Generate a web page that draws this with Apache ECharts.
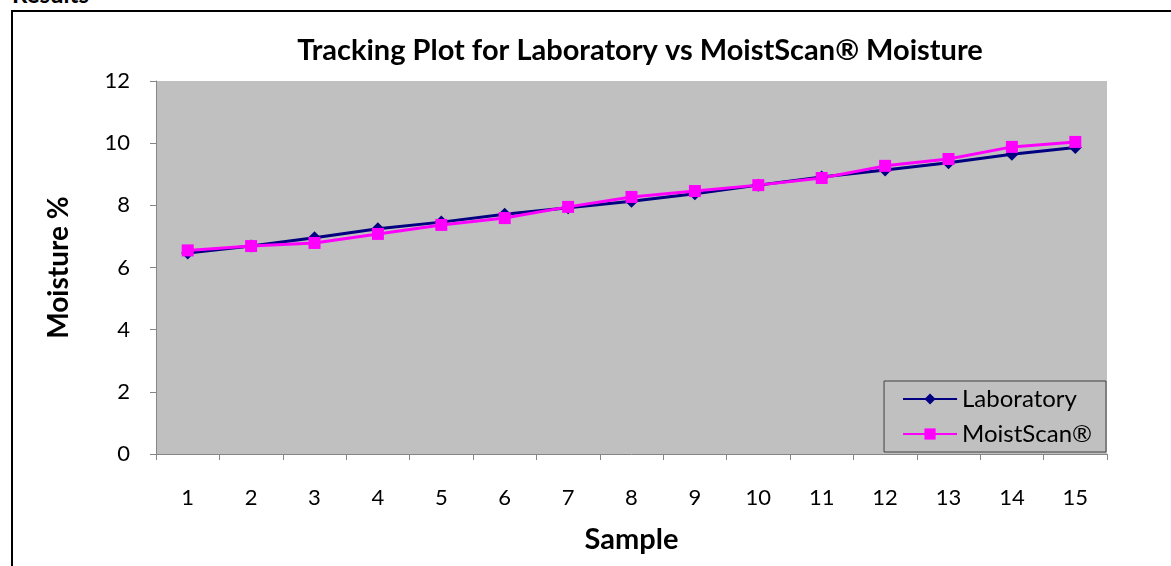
<!DOCTYPE html>
<html>
<head>
<meta charset="utf-8">
<script src="https://cdn.jsdelivr.net/npm/echarts@6/dist/echarts.min.js"></script>
<style>
  html, body { margin: 0; padding: 0; background: #fff; overflow: hidden; }
  #frame { position: absolute; left: 11px; top: 10px; width: 1200px; height: 600px; border-top: 2px solid #000; border-left: 2px solid #000; }
  #head { position: absolute; left: 12px; top: -21px; font: bold 24px Lato, sans-serif; color: #000; }
  #chart { position: absolute; left: 0; top: 0; width: 1171px; height: 566px; }
</style>
</head>
<body>
<div id="head">Results</div>
<div id="frame"></div>
<div id="chart"></div>
<script>
const samples = ["1", "2", "3", "4", "5", "6", "7", "8", "9", "10", "11", "12", "13", "14", "15"];
const laboratory = [6.47, 6.69, 6.96, 7.25, 7.46, 7.71, 7.92, 8.13, 8.37, 8.65, 8.91, 9.14, 9.37, 9.64, 9.86];
const moistScan = [6.55, 6.69, 6.79, 7.08, 7.37, 7.59, 7.95, 8.27, 8.46, 8.65, 8.88, 9.27, 9.49, 9.88, 10.04];

const font = "Lato, 'Open Sans', sans-serif";
const chart = echarts.init(document.getElementById("chart"));
chart.setOption({
  animation: false,
  title: {
    text: "Tracking Plot for Laboratory vs MoistScan® Moisture",
    left: 635,
    textAlign: "center",
    top: 31,
    textStyle: { fontFamily: font, fontSize: 29, fontWeight: "bold", color: "#000" },
  },
  grid: {
    left: 156, right: 64, top: 81, bottom: 112,
    outerBoundsMode: "none",
    show: true, backgroundColor: "#C0C0C0", borderWidth: 0,
  },
  legend: {
    orient: "vertical",
    right: 65,
    bottom: 114,
    backgroundColor: "#C0C0C0",
    borderColor: "#404040",
    borderWidth: 1,
    padding: [6, 14, 6, 18],
    itemWidth: 54,
    itemHeight: 14,
    itemGap: 11,
    textStyle: { fontFamily: font, fontSize: 24, color: "#000" },
    data: ["Laboratory", "MoistScan®"],
  },
  xAxis: {
    type: "category",
    data: samples,
    boundaryGap: true,
    name: "Sample",
    nameLocation: "middle",
    nameGap: 71,
    nameTextStyle: { fontFamily: font, fontSize: 29, fontWeight: "bold", color: "#000" },
    axisLine: { lineStyle: { color: "#868686", width: 1 } },
    axisTick: { show: true, length: 6, lineStyle: { color: "#868686" } },
    axisLabel: { fontFamily: font, fontSize: 22, color: "#000", margin: 33 },
    splitLine: { show: false },
  },
  yAxis: {
    type: "value",
    min: 0,
    max: 12,
    interval: 2,
    name: "Moisture %",
    nameLocation: "middle",
    nameGap: 83,
    nameTextStyle: { fontFamily: font, fontSize: 28, fontWeight: "bold", color: "#000" },
    axisLine: { show: true, lineStyle: { color: "#868686", width: 1 } },
    axisTick: { show: true, length: 6, lineStyle: { color: "#868686" } },
    axisLabel: { fontFamily: font, fontSize: 22, color: "#000", margin: 26 },
    splitLine: { show: false },
  },
  series: [
    {
      name: "Laboratory",
      type: "line",
      data: laboratory,
      symbol: "diamond",
      symbolSize: 13,
      itemStyle: { color: "#000080" },
      lineStyle: { color: "#000080", width: 3 },
    },
    {
      name: "MoistScan®",
      type: "line",
      data: moistScan,
      symbol: "rect",
      symbolSize: 12,
      itemStyle: { color: "#FF00FF" },
      lineStyle: { color: "#FF00FF", width: 3 },
    },
  ],
});
</script>
</body>
</html>
